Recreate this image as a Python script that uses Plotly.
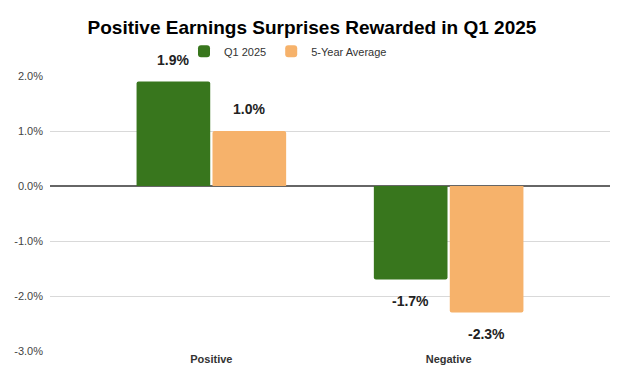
import plotly.graph_objects as go

categories = ["Positive", "Negative"]
q1_2025 = [1.9, -1.7]
five_year_avg = [1.0, -2.3]
series_names = ["Q1 2025", "5-Year Average"]
tick_vals = [2, 1, 0, -1, -2, -3]
tick_text = ["2.0%", "1.0%", "0.0%", "-1.0%", "-2.0%", "-3.0%"]

colors = ["#38761d", "#f6b26b"]
font_family = "Liberation Sans, Arial, sans-serif"

fig = go.Figure()
for name, vals, col in zip(series_names, [q1_2025, five_year_avg], colors):
    fig.add_trace(go.Bar(
        x=categories, y=vals, name=name,
        marker=dict(color=col, line=dict(width=0)),
        offsetgroup=name,
    ))

# data labels as annotations placed relative to bar ends
offsets = [-0.16, 0.16]
for i, vals in enumerate([q1_2025, five_year_avg]):
    for j, v in enumerate(vals):
        fig.add_annotation(
            x=j + offsets[i], y=v, xref="x", yref="y",
            text=f"<b>{v:.1f}%</b>", showarrow=False,
            yshift=22 if v > 0 else -21,
            font=dict(size=14, color="#222222", family=font_family),
        )

fig.update_layout(
    width=624, height=384,
    margin=dict(l=50, r=14, t=76, b=33),
    paper_bgcolor="white", plot_bgcolor="white",
    title=dict(text="<b>Positive Earnings Surprises Rewarded in Q1 2025</b>",
               x=0.5, xanchor="center", y=0.93, yanchor="middle",
               font=dict(size=19, color="#000000", family=font_family)),
    legend=dict(orientation="h", x=0.425, xanchor="center", y=1.09, yanchor="middle",
                font=dict(size=11, color="#333333", family=font_family),
                itemwidth=30, traceorder="normal"),
    barmode="group", bargap=0.36, bargroupgap=0.03,
    barcornerradius=2,
    font=dict(family=font_family),
)
fig.update_xaxes(
    type="category", range=[-0.68, 1.68],
    tickfont=dict(size=11, color="#333333", family=font_family),
    tickprefix="<b>", ticksuffix="</b>",
    showgrid=False, showline=False, ticks="",
)
fig.update_yaxes(
    range=[-3, 2], tickvals=tick_vals, ticktext=tick_text,
    tickfont=dict(size=11, color="#444444", family=font_family),
    showgrid=True, gridcolor="#d9d9d9", gridwidth=1,
    zeroline=True, zerolinecolor="#666666", zerolinewidth=1.5,
    showline=False, ticks="", ticklabelstandoff=6,
)

fig.write_html("out.html", config={"displayModeBar": False},
               post_script="document.body.style.margin='0px';")
